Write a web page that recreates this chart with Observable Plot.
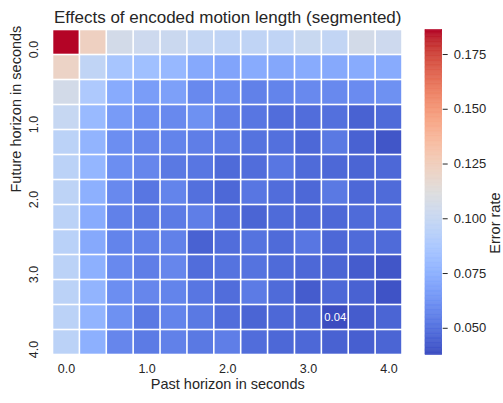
<!DOCTYPE html>
<html>
<head>
<meta charset="utf-8">
<script src="https://cdn.jsdelivr.net/npm/d3@7"></script>
<script src="https://cdn.jsdelivr.net/npm/@observablehq/plot@0.6"></script>
<style>
  body { margin: 0; background: white; }
  #chart { position: relative; width: 503px; height: 403px; }
  #chart svg { position: absolute; left: 0; top: 0; }
</style>
</head>
<body>
<div id="chart"></div>
<script>
// Horizons (seconds) for both axes: 13 steps of 1/3 s
const horizons = [0, 0.33, 0.67, 1.0, 1.33, 1.67, 2.0, 2.33, 2.67, 3.0, 3.33, 3.67, 4.0];
const tickHorizons = [0, 1.0, 2.0, 3.0, 4.0];
const colorbarTicks = [0.050, 0.075, 0.100, 0.125, 0.150, 0.175];

// Error rate: rows = future horizon, columns = past horizon
const future00 = [0.1862, 0.123, 0.106, 0.103, 0.102, 0.099, 0.097, 0.097, 0.097, 0.101, 0.098, 0.106, 0.103];
const future03 = [0.121, 0.097, 0.086, 0.083, 0.079, 0.072, 0.070, 0.073, 0.071, 0.073, 0.072, 0.073, 0.073];
const future07 = [0.106, 0.089, 0.073, 0.067, 0.068, 0.059, 0.061, 0.056, 0.057, 0.059, 0.059, 0.060, 0.062];
const future10 = [0.100, 0.080, 0.066, 0.061, 0.059, 0.062, 0.055, 0.052, 0.049, 0.049, 0.050, 0.045, 0.048];
const future13 = [0.095, 0.077, 0.061, 0.058, 0.057, 0.055, 0.054, 0.051, 0.050, 0.047, 0.053, 0.045, 0.041];
const future17 = [0.095, 0.078, 0.061, 0.058, 0.053, 0.052, 0.048, 0.049, 0.052, 0.048, 0.047, 0.046, 0.047];
const future20 = [0.096, 0.075, 0.059, 0.052, 0.057, 0.050, 0.047, 0.052, 0.049, 0.047, 0.053, 0.047, 0.048];
const future23 = [0.095, 0.073, 0.056, 0.053, 0.054, 0.055, 0.049, 0.046, 0.048, 0.047, 0.047, 0.048, 0.049];
const future27 = [0.094, 0.072, 0.057, 0.056, 0.056, 0.045, 0.049, 0.051, 0.048, 0.052, 0.047, 0.048, 0.048];
const future30 = [0.095, 0.075, 0.059, 0.055, 0.058, 0.049, 0.051, 0.051, 0.048, 0.047, 0.046, 0.043, 0.041];
const future33 = [0.095, 0.077, 0.061, 0.058, 0.057, 0.052, 0.049, 0.054, 0.048, 0.043, 0.047, 0.045, 0.040];
const future37 = [0.095, 0.077, 0.062, 0.053, 0.057, 0.053, 0.049, 0.046, 0.047, 0.046, 0.0378, 0.043, 0.046];
const future40 = [0.095, 0.075, 0.058, 0.054, 0.056, 0.053, 0.055, 0.049, 0.047, 0.047, 0.045, 0.044, 0.046];
const errorRate = [future00, future03, future07, future10, future13, future17, future20,
                   future23, future27, future30, future33, future37, future40];

// coolwarm colormap stops (Moreland)
const coolwarmStops = [
  "rgb(59,76,192)","rgb(68,90,204)","rgb(77,104,215)","rgb(87,117,225)","rgb(98,130,234)",
  "rgb(108,142,241)","rgb(119,154,247)","rgb(130,165,251)","rgb(141,176,254)","rgb(152,185,255)",
  "rgb(163,194,255)","rgb(174,201,253)","rgb(184,208,249)","rgb(194,213,244)","rgb(204,217,238)",
  "rgb(213,219,230)","rgb(221,221,221)","rgb(229,216,209)","rgb(236,211,197)","rgb(241,204,185)",
  "rgb(245,196,173)","rgb(247,187,160)","rgb(247,177,148)","rgb(247,166,135)","rgb(244,154,123)",
  "rgb(241,141,111)","rgb(236,127,99)","rgb(229,112,88)","rgb(222,96,77)","rgb(213,80,66)",
  "rgb(203,62,56)","rgb(192,40,47)","rgb(180,4,38)"
];
const coolwarm = d3.piecewise(d3.interpolateRgb, coolwarmStops);

const cells = [];
errorRate.forEach((row, i) => row.forEach((v, j) => cells.push({past: horizons[j], future: horizons[i], v})));
const [vmin, vmax] = d3.extent(cells, d => d.v);
const minCell = d3.least(cells, d => d.v);
const annotations = [minCell];

const font = "'Liberation Sans', Arial, sans-serif";
const ink = "#262626";
const colorScale = {type: "linear", domain: [vmin, vmax], interpolate: coolwarm};

const main = Plot.plot({
  width: 503, height: 403,
  marginLeft: 52.5, marginRight: 101, marginTop: 29.5, marginBottom: 48.5,
  style: {fontFamily: font, color: ink, background: "transparent"},
  x: {type: "band", domain: horizons, padding: 0, round: false, axis: null},
  y: {type: "band", domain: horizons, padding: 0, round: false, axis: null},
  color: colorScale,
  marks: [
    Plot.cell(cells, {x: "past", y: "future", fill: "v", inset: 0.8}),
    Plot.text(annotations, {x: "past", y: "future", text: d => d3.format(".2f")(d.v), fill: "white", fontSize: 11.3}),
    Plot.axisX({ticks: tickHorizons, tickFormat: d => d.toFixed(1), tickSize: 0, tickPadding: 9.5, fontSize: 12.5, label: null, fill: ink}),
    Plot.text(tickHorizons, {y: d => d, text: d => d.toFixed(1), frameAnchor: "left", dx: -15, dy: 7,
      rotate: -90, textAnchor: "middle", lineAnchor: "bottom", fontSize: 12.5, fill: ink}),
    Plot.text(["Future horizon in seconds"], {text: d => d, frameAnchor: "left", dx: -32.5, rotate: -90,
      lineAnchor: "bottom", fontSize: 14.5, fill: ink}),
    Plot.text(["Past horizon in seconds"], {text: d => d, frameAnchor: "bottom", dy: 33.5,
      lineAnchor: "bottom", fontSize: 14.5, fill: ink}),
    Plot.text(["Effects of encoded motion length (segmented)"], {text: d => d, frameAnchor: "top", dy: -7.5,
      lineAnchor: "bottom", fontSize: 17, fill: ink})
  ]
});

const nSteps = 256;
const barSteps = d3.range(nSteps).map(i => ({
  y1: vmin + (vmax - vmin) * i / nSteps,
  y2: vmin + (vmax - vmin) * (i + 1) / nSteps
}));

const colorbar = Plot.plot({
  width: 503, height: 403,
  marginLeft: 425, marginRight: 61.3, marginTop: 29.5, marginBottom: 48.5,
  style: {fontFamily: font, color: ink, background: "transparent"},
  x: {domain: [0, 1], axis: null},
  y: {domain: [vmin, vmax], axis: null},
  color: colorScale,
  marks: [
    Plot.rect(barSteps, {x1: 0, x2: 1, y1: "y1", y2: "y2", fill: d => (d.y1 + d.y2) / 2,
      stroke: d => (d.y1 + d.y2) / 2, strokeWidth: 0.6}),
    Plot.axisY({anchor: "right", ticks: colorbarTicks, tickFormat: ".3f", tickSize: 5, tickPadding: 6.5,
      fontSize: 13, label: null, fill: ink, stroke: ink}),
    Plot.text(["Error rate"], {text: d => d, frameAnchor: "right", dx: 57.5, rotate: -90,
      lineAnchor: "bottom", fontSize: 14.5, fill: ink})
  ]
});

const chart = document.getElementById("chart");
chart.appendChild(main);
chart.appendChild(colorbar);
</script>
</body>
</html>
